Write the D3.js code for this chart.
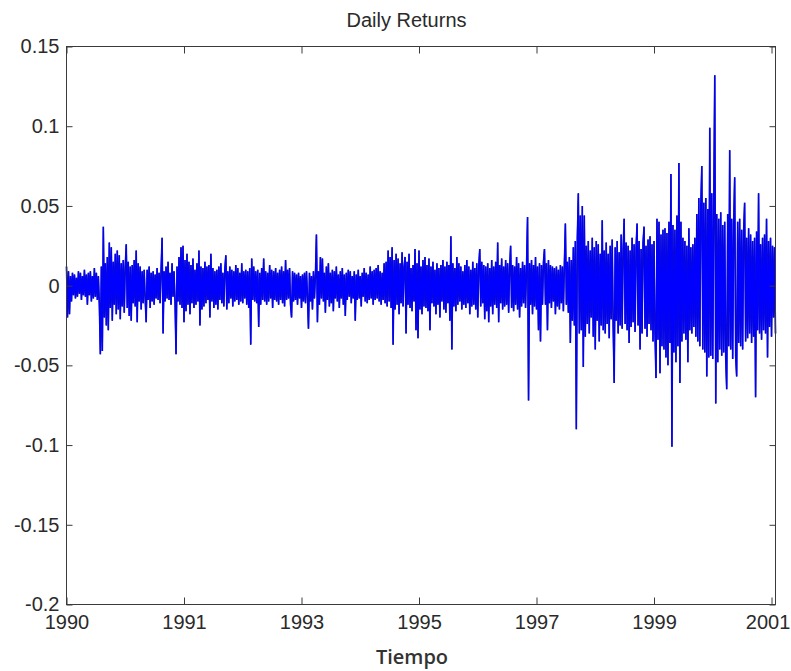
<!DOCTYPE html>
<html>
<head>
<meta charset="utf-8">
<script src="https://cdn.jsdelivr.net/npm/d3@7"></script>
<style>
  html, body { margin: 0; padding: 0; background: #ffffff; }
  svg { display: block; }
</style>
</head>
<body>
<svg id="chart" width="791" height="671"></svg>
<script>
// Daily returns, in thousandths, one value per sample along the time axis
const returnsMilli = [
  12, -20, 9, -18, 6, -10, 8, -6, 7, -8,
  5, -7, 9, -5, 8, -9, 6, -6, 10, -7,
  7, -12, 8, -6, 9, -10, 6, -8, 11, -7,
  8, -9, 6, -12, -43, 12, -41, 37, -20, 14,
  -25, 18, -28, 27, -14, 24, -22, 15, -12, 20,
  -18, 22, -15, 19, -21, 14, -13, 16, -17, 12,
  26, -14, 15, -19, 12, -22, 13, -11, 16, -13,
  22, -23, 14, -10, 12, -15, 9, -11, 10, -8,
  -23, 10, -9, 12, -14, 8, -10, 9, -12, 7,
  -8, 11, -9, 8, -11, 10, 30, -30, 9, -10,
  12, -8, 15, -9, 8, -12, 14, -7, 9, -10,
  -43, 12, -10, 18, -12, 24, -14, 25, -23, 16,
  -16, 20, -12, 15, -18, 13, -11, 17, -14, 10,
  -12, 14, -10, 22, -25, 12, -15, 11, -13, 15,
  -11, 12, -9, 13, -20, 20, -10, 11, -14, 9,
  -12, 10, -15, 12, -9, 14, -11, 8, -13, 10,
  19, -15, 9, -11, 12, -8, 10, -13, 9, -10,
  13, -9, 11, -12, 8, -10, 14, -11, 9, -8,
  10, -12, 9, -14, 11, -37, 17, -9, 12, -10,
  9, -11, 10, -26, 8, -12, 11, -9, 17, -10,
  9, -12, 8, -10, 13, -8, 10, -14, 9, -9,
  11, -10, 8, -12, 10, -9, 12, -11, 9, -13,
  16, -9, 10, -8, 11, -12, -20, 9, -10, 8,
  -9, 7, -12, 8, -8, 6, -14, 7, -10, 8,
  -11, 9, -7, -27, 8, -10, 6, -15, 9, -8,
  7, 32, -23, 9, -12, 18, -8, 17, -10, 8,
  -17, 12, -9, 14, -13, 8, -11, 10, -16, 9,
  -8, 12, -10, 7, -14, 9, -8, 11, -12, 7,
  -19, 8, -9, 10, -7, 9, -11, 6, -8, 9,
  -22, 7, -9, 10, -8, 6, -13, 8, -7, 11,
  -10, 8, -11, 7, -9, 12, -8, 9, -12, 10,
  -9, 11, -8, 13, -10, 9, -12, 8, -9, 14,
  -11, 15, -13, 22, -10, 18, -14, 24, -37, 16,
  -15, 20, -12, 17, -18, 14, -11, 21, -13, 12,
  18, -30, 15, -12, 20, -14, 11, -16, 13, -10,
  23, -28, 14, -33, 22, -15, 12, -18, 16, -13,
  18, -14, 13, -16, 17, -28, 12, -11, 15, -13,
  10, -18, 14, -12, 11, -20, 13, -10, 16, -15,
  12, -17, 15, -11, 13, -22, 31, -40, 14, -13,
  11, -16, 18, -12, 14, -10, 12, -15, 9, -12,
  13, -14, 16, -11, 12, -18, 10, -13, 15, -12,
  11, -15, 14, -20, 12, 23, -13, 15, -11, 13,
  -21, 12, -16, 14, -23, 11, -13, 16, -18, 12,
  -12, 15, -14, 27, -23, 13, -11, 17, -15, 12,
  -13, 16, -12, 14, -17, 11, 25, -14, 13, -16,
  12, -12, 18, -15, 14, -20, 11, -13, 15, -11,
  13, -14, 12, 43, -72, 14, -12, 16, -18, 13,
  -13, 18, -15, 12, -28, 14, -35, 13, -12, 15,
  23, -12, 14, -28, 16, -11, 13, -14, 12, -10,
  11, -18, 12, -13, 10, -15, 13, -11, 12, -16,
  14, 39, -12, 15, -17, 18, -36, 16, -22, 24,
  -25, 28, -90, 30, 58, -30, 44, -28, 50, -51,
  44, -32, 25, -24, 28, -30, 22, -20, 30, -32,
  24, -40, 28, -22, 26, -35, 20, -25, 41, -28,
  22, -30, 27, -24, 20, -33, 25, -21, 29, -26,
  -61, 24, -22, 28, -30, 21, -25, 32, -27, 23,
  42, -24, 27, -28, 25, -36, 22, -26, 30, -23,
  26, -29, 24, 39, -25, 28, -40, 23, -30, 27,
  37, -27, 25, -32, 29, -24, 31, -28, 26, -35,
  28, -30, -58, 42, -34, 40, -55, 32, -38, 35,
  -40, 36, -45, 33, -50, 40, -36, 70, -101, 38,
  -42, 35, -48, 44, -38, 77, -61, 40, -35, 30,
  -30, 28, -34, 25, -48, 36, -28, 24, -30, 26,
  -26, 30, -32, 45, -35, 55, -38, 50, 75, -40,
  52, -42, 55, -57, 48, -45, 99, -44, 58, -46,
  50, 132, -74, 45, -48, 42, -40, 46, -44, 38,
  -42, 40, -45, -65, 45, -38, 85, -40, 42, -46,
  38, 68, -44, -57, 40, -36, 42, -38, 35, -40,
  34, 52, -35, 30, -33, 36, -30, 32, -36, 28,
  -32, 30, -70, 34, -28, 58, -30, 26, -34, 30,
  -28, 32, -30, 42, -45, 28, -26, 30, -32, 25,
  -20, 24, -30
];

// Sample positions of the time-axis ticks and their year labels
const xTickPositions = [0, 118, 236, 354, 472, 590, 708];
const xTickLabels = ["1990", "1991", "1993", "1995", "1997", "1999", "2001"];

// Return-axis ticks
const yTickValues = [-0.2, -0.15, -0.1, -0.05, 0, 0.05, 0.1, 0.15];
const yTickLabels = ["-0.2", "-0.15", "-0.1", "-0.05", "0", "0.05", "0.1", "0.15"];

const titleText = "Daily Returns";
const xLabelText = "Tiempo";

const data = returnsMilli.map((v, i) => ({ i, r: v / 1000 }));

const svg = d3.select("#chart");
const plotLeft = 66.5, plotRight = 775.5, plotTop = 46.5, plotBottom = 604.5;
const axisColor = "#3a3a3a";
const textColor = "#2a2a2a";
const labelFont = '"Liberation Sans", Arial, sans-serif';
const labelSize = "20px";

const x = d3.scaleLinear().domain([0, returnsMilli.length - 1]).range([plotLeft, plotRight]);
const y = d3.scaleLinear().domain([-0.2, 0.15]).range([plotBottom, plotTop]);

svg.append("rect").attr("x", 0).attr("y", 0).attr("width", 791).attr("height", 671).attr("fill", "#ffffff");

// series line: a dark underlay gives the thin spikes their deep-blue edge
const line = d3.line().x(d => x(d.i)).y(d => y(d.r));
svg.append("path")
  .datum(data)
  .attr("fill", "none")
  .attr("stroke", "#1a1a8a")
  .attr("stroke-width", 1.6)
  .attr("d", line);
svg.append("path")
  .datum(data)
  .attr("fill", "none")
  .attr("stroke", "#0000ff")
  .attr("stroke-width", 1.25)
  .attr("d", line);

// axes with inward ticks on all four sides
function styleAxis(g) {
  g.selectAll(".domain").remove();
  g.selectAll(".tick line").attr("stroke", axisColor).attr("stroke-width", 1);
  g.selectAll(".tick text").attr("fill", textColor).style("font-size", labelSize).style("font-family", labelFont);
}

const xFmt = (d, k) => xTickLabels[k];
const yFmt = (d, k) => yTickLabels[k];

svg.append("g").attr("transform", `translate(0,${plotBottom})`)
  .call(d3.axisBottom(x).tickValues(xTickPositions).tickFormat(xFmt).tickSizeInner(-7).tickSizeOuter(0))
  .call(styleAxis)
  .call(g => g.selectAll(".tick text").attr("dy", "0.71em").attr("y", 10))
  // keep the last year label inside the figure edge
  .call(g => g.selectAll(".tick:last-of-type text").attr("x", -4));

svg.append("g").attr("transform", `translate(0,${plotTop})`)
  .call(d3.axisTop(x).tickValues(xTickPositions).tickFormat("").tickSizeInner(-7).tickSizeOuter(0))
  .call(styleAxis);

svg.append("g").attr("transform", `translate(${plotLeft},0)`)
  .call(d3.axisLeft(y).tickValues(yTickValues).tickFormat(yFmt).tickSizeInner(-6).tickSizeOuter(0).tickPadding(7))
  .call(styleAxis);

svg.append("g").attr("transform", `translate(${plotRight},0)`)
  .call(d3.axisRight(y).tickValues(yTickValues).tickFormat("").tickSizeInner(-6).tickSizeOuter(0))
  .call(styleAxis);

// axes box
svg.append("rect")
  .attr("x", plotLeft).attr("y", plotTop)
  .attr("width", plotRight - plotLeft).attr("height", plotBottom - plotTop)
  .attr("fill", "none").attr("stroke", axisColor).attr("stroke-width", 1);

// title
svg.append("text")
  .attr("x", 406.5).attr("y", 27)
  .attr("text-anchor", "middle")
  .attr("fill", textColor)
  .style("font-family", labelFont).style("font-size", labelSize)
  .text(titleText);

// x-axis label
svg.append("text")
  .attr("x", 412).attr("y", 664)
  .attr("text-anchor", "middle")
  .attr("fill", "#333333")
  .style("font-family", '"Open Sans", "Noto Sans", sans-serif')
  .style("font-weight", 600)
  .style("font-size", "20px")
  .text(xLabelText);
</script>
</body>
</html>
